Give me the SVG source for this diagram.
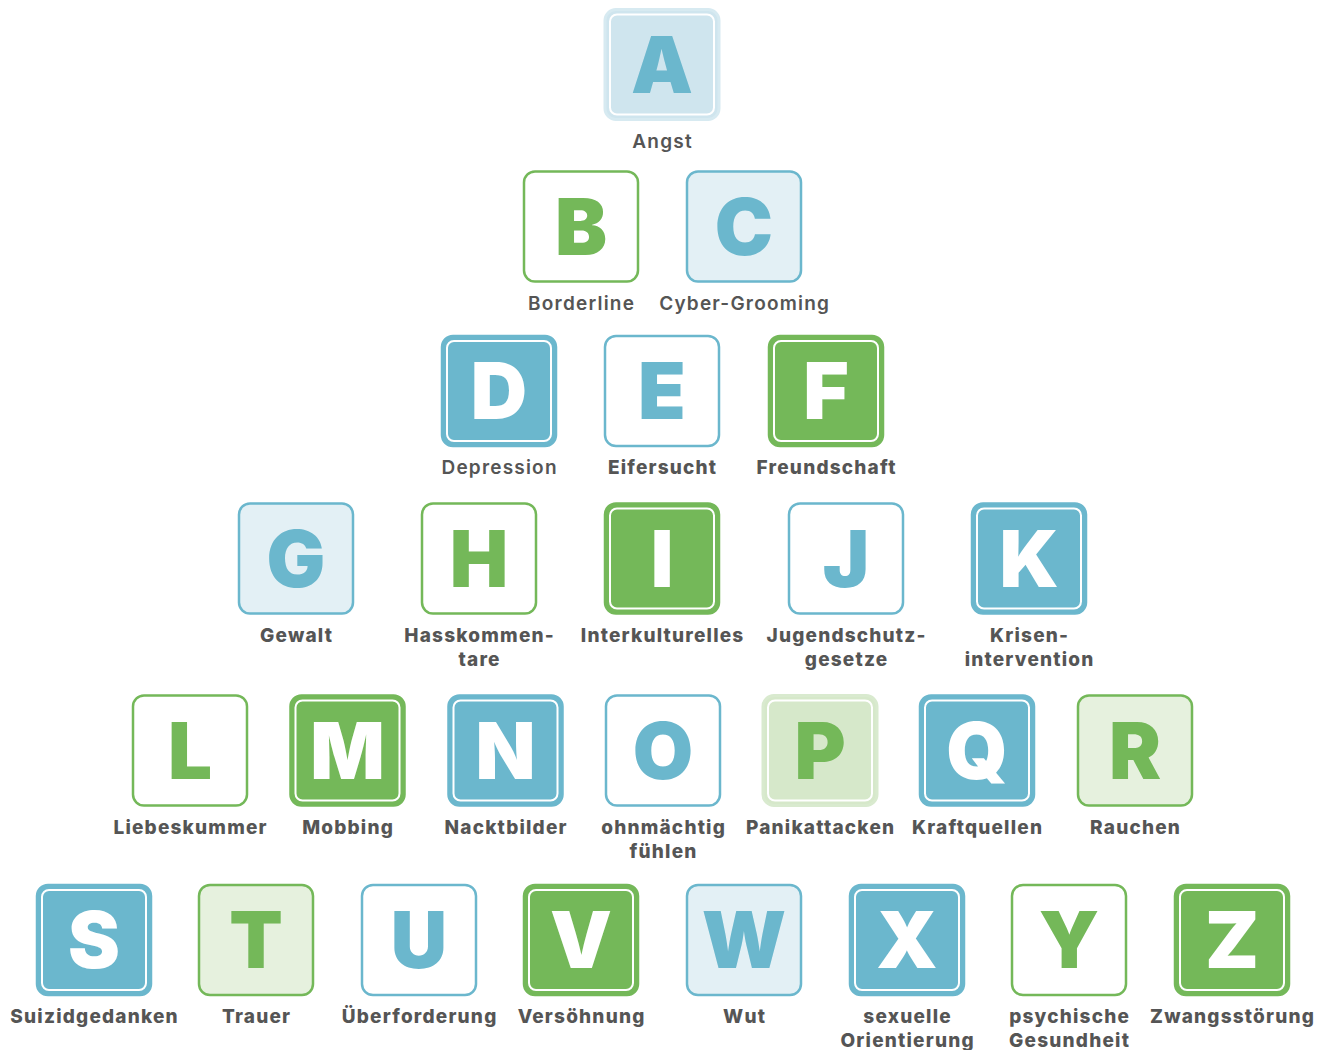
<svg xmlns="http://www.w3.org/2000/svg" width="1330" height="1050" viewBox="0 0 1330 1050">
<style>
.o{stroke-width:2.5}
.i{fill:none;stroke:#fff;stroke-width:2}
.L{font-family:Inter,"Liberation Sans",sans-serif;font-weight:900;font-size:78px;text-anchor:middle}
.T{font-family:Inter,"Liberation Sans",sans-serif;font-weight:800;font-size:19px;text-anchor:middle;fill:#555;letter-spacing:1.2px}
.m{font-weight:600}
.bf .o{fill:#6bb7cd;stroke:#6bb7cd}.bf .L{fill:#fff}
.gf .o{fill:#74b859;stroke:#74b859}.gf .L{fill:#fff}
.pb .o{fill:#cfe5ee;stroke:#d7eaf1;stroke-width:3}.pb .L{fill:#6bb7cd}
.pg .o{fill:#d6e8ca;stroke:#d9eacf;stroke-width:3}.pg .L{fill:#74b859}
.lb .o{fill:#e3f0f5;stroke:#6bb7cd}.lb .L{fill:#6bb7cd}
.lg .o{fill:#e6f1de;stroke:#74b859}.lg .L{fill:#74b859}
.wb .o{fill:#fff;stroke:#6bb7cd}.wb .L{fill:#6bb7cd}
.wg .o{fill:#fff;stroke:#74b859}.wg .L{fill:#74b859}
</style>
<rect width="1330" height="1050" fill="#fff"/>
<g id="connectors"/>

<g id="A" class="pb" transform="translate(605,9.5)"><rect class="o" width="114" height="110" rx="11"/><rect class="i" x="5" y="5" width="104" height="100" rx="7"/><text class="L" x="57" y="83">A</text><text class="T m" x="57.6" y="138">Angst</text></g>

<g id="B" class="wg" transform="translate(524,171.5)"><rect class="o" width="114" height="110" rx="11"/><text class="L" x="57" y="83">B</text><text class="T m" x="57.6" y="138">Borderline</text></g>
<g id="C" class="lb" transform="translate(687,171.5)"><rect class="o" width="114" height="110" rx="11"/><text class="L" x="57" y="83">C</text><text class="T m" x="57.6" y="138">Cyber-Grooming</text></g>

<g id="D" class="bf" transform="translate(442,336)"><rect class="o" width="114" height="110" rx="11"/><rect class="i" x="5" y="5" width="104" height="100" rx="7"/><text class="L" x="57" y="83">D</text><text class="T m" x="57.6" y="138">Depression</text></g>
<g id="E" class="wb" transform="translate(605,336)"><rect class="o" width="114" height="110" rx="11"/><text class="L" x="57" y="83">E</text><text class="T" x="57.6" y="138">Eifersucht</text></g>
<g id="F" class="gf" transform="translate(769,336)"><rect class="o" width="114" height="110" rx="11"/><rect class="i" x="5" y="5" width="104" height="100" rx="7"/><text class="L" x="57" y="83">F</text><text class="T" x="57.6" y="138">Freundschaft</text></g>

<g id="G" class="lb" transform="translate(239,503.5)"><rect class="o" width="114" height="110" rx="11"/><text class="L" x="57" y="83">G</text><text class="T" x="57.6" y="138">Gewalt</text></g>
<g id="H" class="wg" transform="translate(422,503.5)"><rect class="o" width="114" height="110" rx="11"/><text class="L" x="57" y="83">H</text><text class="T" x="57.6" y="138">Hasskommen-</text><text class="T" x="57.6" y="162">tare</text></g>
<g id="I" class="gf" transform="translate(605,503.5)"><rect class="o" width="114" height="110" rx="11"/><rect class="i" x="5" y="5" width="104" height="100" rx="7"/><text class="L" x="57" y="83">I</text><text class="T" x="57.6" y="138">Interkulturelles</text></g>
<g id="J" class="wb" transform="translate(789,503.5)"><rect class="o" width="114" height="110" rx="11"/><text class="L" x="57" y="83">J</text><text class="T" x="57.6" y="138">Jugendschutz-</text><text class="T" x="57.6" y="162">gesetze</text></g>
<g id="K" class="bf" transform="translate(972,503.5)"><rect class="o" width="114" height="110" rx="11"/><rect class="i" x="5" y="5" width="104" height="100" rx="7"/><text class="L" x="57" y="83">K</text><text class="T" x="57.6" y="138">Krisen-</text><text class="T" x="57.6" y="162">intervention</text></g>

<g id="L" class="wg" transform="translate(133,695.5)"><rect class="o" width="114" height="110" rx="11"/><text class="L" x="57" y="83">L</text><text class="T" x="57.6" y="138">Liebeskummer</text></g>
<g id="M" class="gf" transform="translate(290.5,695.5)"><rect class="o" width="114" height="110" rx="11"/><rect class="i" x="5" y="5" width="104" height="100" rx="7"/><text class="L" x="57" y="83">M</text><text class="T" x="57.6" y="138">Mobbing</text></g>
<g id="N" class="bf" transform="translate(448.5,695.5)"><rect class="o" width="114" height="110" rx="11"/><rect class="i" x="5" y="5" width="104" height="100" rx="7"/><text class="L" x="57" y="83">N</text><text class="T" x="57.6" y="138">Nacktbilder</text></g>
<g id="O" class="wb" transform="translate(606,695.5)"><rect class="o" width="114" height="110" rx="11"/><text class="L" x="57" y="83">O</text><text class="T" x="57.6" y="138">ohnmächtig</text><text class="T" x="57.6" y="162">fühlen</text></g>
<g id="P" class="pg" transform="translate(763,695.5)"><rect class="o" width="114" height="110" rx="11"/><rect class="i" x="5" y="5" width="104" height="100" rx="7"/><text class="L" x="57" y="83">P</text><text class="T" x="57.6" y="138">Panikattacken</text></g>
<g id="Q" class="bf" transform="translate(920,695.5)"><rect class="o" width="114" height="110" rx="11"/><rect class="i" x="5" y="5" width="104" height="100" rx="7"/><text class="L" x="57" y="83">Q</text><text class="T" x="57.6" y="138">Kraftquellen</text></g>
<g id="R" class="lg" transform="translate(1078,695.5)"><rect class="o" width="114" height="110" rx="11"/><text class="L" x="57" y="83">R</text><text class="T" x="57.6" y="138">Rauchen</text></g>

<g id="S" class="bf" transform="translate(37,885)"><rect class="o" width="114" height="110" rx="11"/><rect class="i" x="5" y="5" width="104" height="100" rx="7"/><text class="L" x="57" y="83">S</text><text class="T" x="57.6" y="138">Suizidgedanken</text></g>
<g id="T" class="lg" transform="translate(199,885)"><rect class="o" width="114" height="110" rx="11"/><text class="L" x="57" y="83">T</text><text class="T" x="57.6" y="138">Trauer</text></g>
<g id="U" class="wb" transform="translate(362,885)"><rect class="o" width="114" height="110" rx="11"/><text class="L" x="57" y="83">U</text><text class="T" x="57.6" y="138">Überforderung</text></g>
<g id="V" class="gf" transform="translate(524,885)"><rect class="o" width="114" height="110" rx="11"/><rect class="i" x="5" y="5" width="104" height="100" rx="7"/><text class="L" x="57" y="83">V</text><text class="T" x="57.6" y="138">Versöhnung</text></g>
<g id="W" class="lb" transform="translate(687,885)"><rect class="o" width="114" height="110" rx="11"/><text class="L" x="57" y="83">W</text><text class="T" x="57.6" y="138">Wut</text></g>
<g id="X" class="bf" transform="translate(850,885)"><rect class="o" width="114" height="110" rx="11"/><rect class="i" x="5" y="5" width="104" height="100" rx="7"/><text class="L" x="57" y="83">X</text><text class="T" x="57.6" y="138">sexuelle</text><text class="T" x="57.6" y="162">Orientierung</text></g>
<g id="Y" class="wg" transform="translate(1012,885)"><rect class="o" width="114" height="110" rx="11"/><text class="L" x="57" y="83">Y</text><text class="T" x="57.6" y="138">psychische</text><text class="T" x="57.6" y="162">Gesundheit</text></g>
<g id="Z" class="gf" transform="translate(1175,885)"><rect class="o" width="114" height="110" rx="11"/><rect class="i" x="5" y="5" width="104" height="100" rx="7"/><text class="L" x="57" y="83">Z</text><text class="T" x="57.6" y="138">Zwangsstörung</text></g>
</svg>
